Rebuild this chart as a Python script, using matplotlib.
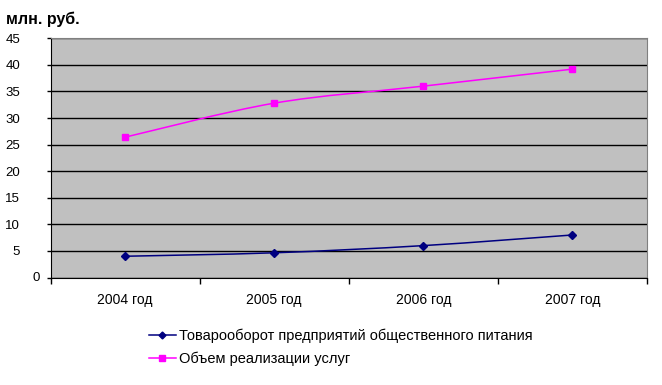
import matplotlib
matplotlib.use('Agg')
from matplotlib import pyplot as plt
from matplotlib.path import Path
from matplotlib.patches import PathPatch
from matplotlib.lines import Line2D

years = ['2004 год', '2005 год', '2006 год', '2007 год']
trade = [4.0, 4.65, 6.0, 8.0]
services = [26.4, 32.8, 36.0, 39.2]
names = ['Товарооборот предприятий общественного питания', 'Объем реализации услуг']
yticks = [0, 5, 10, 15, 20, 25, 30, 35, 40, 45]

plt.rcParams['font.family'] = ['Liberation Sans', 'DejaVu Sans']


def smooth_path(xs, ys):
    # catmull-rom style bezier through the points, like excel's smoothed line
    verts = [(xs[0], ys[0])]
    codes = [Path.MOVETO]
    n = len(xs)
    for i in range(n - 1):
        x0, y0 = (xs[i - 1], ys[i - 1]) if i > 0 else (xs[i], ys[i])
        x1, y1 = xs[i], ys[i]
        x2, y2 = xs[i + 1], ys[i + 1]
        x3, y3 = (xs[i + 2], ys[i + 2]) if i + 2 < n else (x2, y2)
        c1 = (x1 + (x2 - x0) / 6, y1 + (y2 - y0) / 6)
        c2 = (x2 - (x3 - x1) / 6, y2 - (y3 - y1) / 6)
        verts += [c1, c2, (x2, y2)]
        codes += [Path.CURVE4] * 3
    return Path(verts, codes)


fig = plt.figure(figsize=(6.62, 3.85), dpi=100)
ax = fig.add_axes([0.0763, 0.2792, 0.9010, 0.6213])
ax.set_facecolor('#C0C0C0')

x = list(range(len(years)))
series = [(trade, '#000080', 'D', 4), (services, '#FF00FF', 's', 4.5)]
for vals, col, mk, ms in series:
    ax.add_patch(PathPatch(smooth_path(x, vals), fill=False, edgecolor=col, lw=1.1, zorder=3))
    ax.plot(x, vals, linestyle='none', marker=mk, color=col, markersize=ms, zorder=4)

ax.set_xlim(-0.5, 3.5)
ax.set_ylim(0, 45)
ax.set_yticks(yticks)
ax.set_yticklabels([str(v) if v != 0 else '' for v in yticks], fontsize=9.5)
ax.annotate('0', xy=(0, 0), xycoords=ax.get_yaxis_transform(), xytext=(-8, 0),
            textcoords='offset points', ha='right', va='center', fontsize=9.5)
ax.tick_params(axis='y', length=3, width=1, pad=19, colors='black')
ax.yaxis.grid(True, color='black', lw=1)
ax.set_axisbelow(True)

ax.set_xticks([-0.5, 0.5, 1.5, 2.5, 3.5])
ax.set_xticklabels([])
ax.set_xticks(x, minor=True)
ax.set_xticklabels(years, minor=True, fontsize=10)
ax.tick_params(axis='x', which='major', length=4, width=1, direction='out')
ax.tick_params(axis='x', which='minor', length=0, pad=11)

for s in ['left', 'bottom']:
    ax.spines[s].set_color('black')
for s in ['top', 'right']:
    ax.spines[s].set_color('#808080')

fig.text(0.009, 0.951, 'млн. руб.', fontsize=11.5, fontweight='bold', ha='left', va='center')

handles = [Line2D([], [], color=c, marker=m, markersize=ms - 0.5, lw=1.1) for _, c, m, ms in series]
fig.legend(handles, names, loc='upper left', bbox_to_anchor=(0.214, 0.165), frameon=False,
           fontsize=10.5, handlelength=1.85, handletextpad=0.2, labelspacing=0.55, borderpad=0)

plt.savefig('out.png', dpi=100)
